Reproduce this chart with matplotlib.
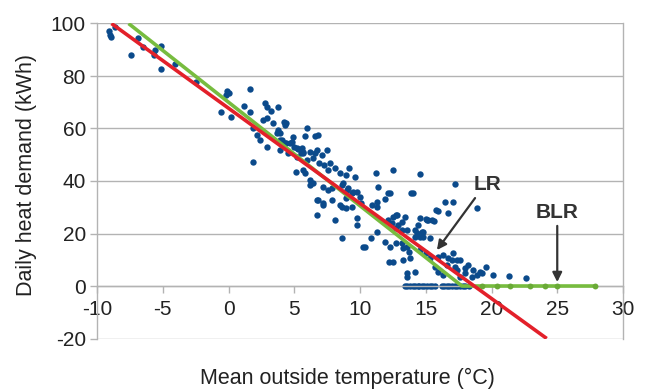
import matplotlib

matplotlib.use("Agg")

import matplotlib.pyplot as plt

# daily points (mean temp in C, heat demand in kWh)
temp = [
    -9.1, -9.0, -8.9, -8.6, -7.4, -6.9, -6.5, -5.7, -5.6, -5.1, -5.1, -4.1, -2.5,
    -0.1, 0.0, -0.2, -0.6, 0.2, 1.2, 1.6, 1.6, 1.9, 1.9, 2.2, 2.4, 2.8, 2.9, 2.9,
    2.6, 3.2, 3.8, 3.4, 4.2, 4.4, 4.3, 3.8, 3.9, 3.7, 3.9, 4.1, 4.3, 4.4, 4.7, 4.8,
    4.9, 2.9, 5.0, 5.2, 5.6, 5.5, 5.7, 6.0, 5.8, 6.6, 6.8, 5.3, 6.2, 6.7, 6.4, 5.2,
    4.5, 3.9, 5.7, 6.6, 7.1, 7.5, 6.0, 6.9, 7.3, 7.7, 7.6, 8.1, 8.5, 8.9, 9.2, 9.6,
    5.7, 5.1, 5.8, 6.2, 6.4, 7.2, 7.6, 7.9, 8.6, 9.0, 9.4, 9.8, 10.0, 6.7, 7.2, 7.9,
    8.5, 8.9, 9.4, 10.1, 6.8, 6.7, 8.1, 7.2, 6.2,
    11.2, 12.5, 14.6, 8.7, 9.1, 9.5, 11.4, 12.1, 12.3, 11.9, 11.3, 10.9, 13.9, 8.6,
    8.9, 9.8, 9.8, 11.3, 12.5, 12.8, 12.1, 12.4, 12.9, 13.2, 12.7, 13.2, 13.6, 14.2,
    14.6, 15.1, 15.5, 15.8, 14.2, 14.6, 14.8, 15.3, 8.6, 10.8, 11.3, 11.9, 10.4,
    12.3, 13.2, 13.6,
    17.2, 14.0, 16.5, 17.1, 18.9, 15.9, 16.7, 15.0, 15.2, 15.6, 12.7, 13.4, 14.4,
    14.7, 14.3, 14.8, 12.7, 13.3, 13.7, 13.8, 13.3, 14.6, 15.0, 15.3, 15.9, 16.3,
    16.7, 17.0, 16.6, 17.2, 17.6, 17.4, 18.0, 19.6, 20.1, 18.5, 15.7, 15.9, 16.3,
    17.6, 13.6, 12.5, 12.2, 10.2,
    17.1, 17.4, 18.2, 18.6, 19.1, 18.9, 19.3, 21.3, 22.6, 18.0, 14.2, 13.6,
    13.4, 13.6, 13.8, 14.0, 14.2, 14.4, 14.5, 14.7, 14.9, 15.1, 15.3, 15.5, 15.7,
    16.2, 16.4, 16.6, 16.8, 17.0, 17.2, 17.4, 17.6, 17.8, 18.0, 18.3,
]
demand = [
    97.1, 95.6, 94.9, 98.7, 88.0, 94.5, 91.0, 88.0, 89.9, 91.4, 82.7, 84.6, 77.7,
    74.3, 73.5, 72.8, 66.3, 64.4, 68.6, 66.3, 75.0, 47.2, 60.2, 57.5, 55.6, 69.7,
    68.2, 64.0, 63.2, 66.7, 68.2, 62.1, 62.5, 62.1, 61.3, 59.4, 58.3, 58.3, 55.6,
    55.6, 54.5, 54.5, 54.5, 54.9, 56.8, 53.0, 53.0, 52.6, 52.6, 50.7, 50.7, 60.2,
    57.1, 57.1, 57.5, 52.2, 51.0, 51.8, 48.8, 49.1, 50.7, 51.8, 51.0, 50.7, 49.9,
    51.8, 48.0, 46.9, 46.1, 46.9, 44.2, 45.0, 43.0, 42.3, 45.0, 41.5, 44.2, 43.4,
    43.0, 40.4, 39.2, 37.7, 36.6, 37.3, 38.5, 36.6, 35.4, 35.8, 33.9, 32.8, 31.6,
    32.8, 30.9, 33.5, 30.1, 31.6, 32.8, 27.0, 25.1, 30.9, 38.5,
    43.0, 44.2, 42.7, 39.2, 37.3, 35.8, 37.7, 35.4, 35.4, 33.1, 32.0, 30.9, 35.4,
    30.1, 29.7, 25.9, 23.2, 30.1, 26.3, 27.0, 25.1, 24.0, 23.2, 24.4, 22.1, 21.3,
    21.3, 21.3, 25.9, 25.1, 25.1, 29.0, 18.7, 18.7, 20.6, 18.3, 18.3, 18.3, 20.6,
    16.8, 14.9, 14.9, 16.4, 14.9,
    38.9, 35.4, 32.0, 32.0, 29.7, 28.6, 27.8, 25.5, 25.1, 24.8, 27.0, 26.3, 23.2,
    20.6, 20.2, 18.7, 16.4, 14.5, 13.0, 10.7, 9.9, 13.7, 12.6, 10.7, 11.0, 11.8,
    10.7, 9.9, 8.0, 7.2, 9.9, 6.1, 6.9, 7.2, 4.2, 3.4, 7.2, 5.3, 4.2,
    3.4, 3.4, 9.1, 9.1, 14.9,
    12.6, 9.9, 8.0, 6.1, 5.3, 4.2, 5.0, 3.8, 3.0, 5.0, 5.3, 5.0,
    0, 0, 0, 0, 0, 0, 0, 0, 0, 0, 0, 0, 0,
    0, 0, 0, 0, 0, 0, 0, 0, 0, 0, 0,
]

# linear regression (LR) and bounded linear regression (BLR)
lr_x = [-8.9, 24.2]
lr_y = [100, -20]
blr_x = [-7.6, 17.75, 27.9]
blr_y = [100, 0, 0]
blr_pts_x = [19.3, 20.4, 21.4, 22.9, 24.1, 25.0, 27.9]
blr_pts_y = [0, 0, 0, 0, 0, 0, 0]

xticks = [-10, -5, 0, 5, 10, 15, 20, 25, 30]
yticks = [-20, 0, 20, 40, 60, 80, 100]

plt.rcParams["font.family"] = ["Liberation Sans", "DejaVu Sans"]
plt.rcParams["axes.unicode_minus"] = False

fig = plt.figure(figsize=(6.46, 3.92), dpi=100)
ax = fig.add_axes([97 / 646, 53.5 / 392, 526 / 646, 315 / 392])

grid_col = "#b3b3b3"
text_col = "#222222"
for yv in yticks:
    ax.axhline(yv, color=grid_col, lw=1, zorder=0)

ax.scatter(temp, demand, s=21, color="#0b4a8b", linewidths=0, zorder=2)
ax.plot(blr_x, blr_y, color="#77bc3f", lw=2.6, zorder=3, solid_capstyle="butt")
ax.scatter(blr_pts_x, blr_pts_y, s=18, color="#6aaa36", linewidths=0, zorder=3)
ax.plot(lr_x, lr_y, color="#e3202a", lw=2.6, zorder=4, solid_capstyle="butt")

ax.set_xlim(-10, 30)
ax.set_ylim(-20, 100)
ax.set_xticks(xticks)
ax.set_yticks(yticks)

ax.spines["top"].set_visible(False)
ax.spines["bottom"].set_position(("data", 0))
for side in ["bottom", "left", "right"]:
    ax.spines[side].set_color(grid_col)
    ax.spines[side].set_linewidth(1)

ax.tick_params(axis="both", color=grid_col, length=5, width=1,
               labelsize=15, labelcolor=text_col)
ax.tick_params(axis="x", pad=5)
ax.tick_params(axis="y", pad=3)

ann_col = "#333333"
arrow = dict(arrowstyle="-|>", color=ann_col, lw=1.6, mutation_scale=14,
             shrinkA=0, shrinkB=0)
ax.annotate("", xy=(15.85, 13.7), xytext=(18.75, 33.5), arrowprops=arrow,
            zorder=5)
ax.text(19.7, 38.5, "LR", fontsize=15, fontweight="bold", color=ann_col,
        ha="center", va="center")
ax.annotate("", xy=(25.0, 1.5), xytext=(25.0, 22.9), arrowprops=arrow,
            zorder=5)
ax.text(25.0, 28.0, "BLR", fontsize=15, fontweight="bold", color=ann_col,
        ha="center", va="center")

fig.text(347 / 646, 1 - 378 / 392, "Mean outside temperature (\u00b0C)",
         fontsize=15.5, color=text_col, ha="center", va="center")
fig.text(27 / 646, 1 - 175 / 392, "Daily heat demand (kWh)", rotation=90,
         fontsize=15.5, color=text_col, ha="center", va="center")

fig.savefig("out.png", dpi=100)
